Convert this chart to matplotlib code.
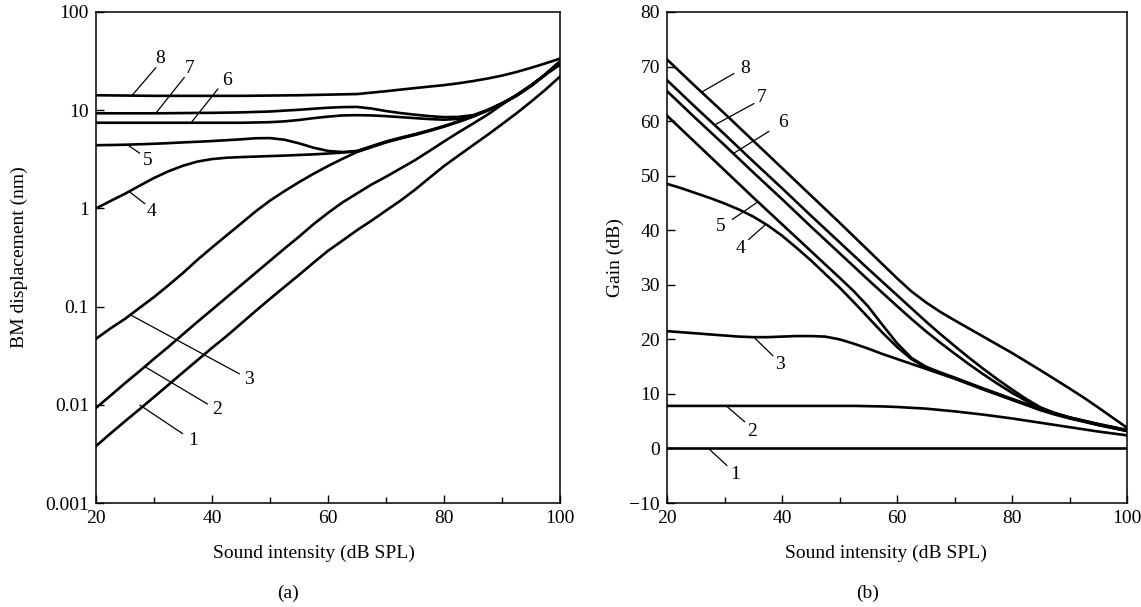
import matplotlib
matplotlib.use("Agg")
import matplotlib.pyplot as plt
from matplotlib.ticker import FixedLocator, FixedFormatter, MultipleLocator

plt.rcParams['font.family'] = ['Liberation Serif', 'DejaVu Serif']

# ---------------- data ----------------
intensity = [20, 22.5, 25, 27.5, 30, 32.5, 35, 37.5, 40, 42.5, 45, 47.5, 50, 52.5, 55, 57.5,
             60, 62.5, 65, 67.5, 70, 72.5, 75, 77.5, 80, 82.5, 85, 87.5, 90, 92.5, 95, 97.5, 100]

# (a) BM displacement (nm), curves 1..8
disp1 = [0.0038, 0.0051, 0.0068, 0.009, 0.012, 0.016, 0.0214, 0.0285, 0.038, 0.05, 0.067, 0.09,
         0.12, 0.159, 0.21, 0.28, 0.37, 0.47, 0.6, 0.75, 0.95, 1.2, 1.55, 2.05, 2.7, 3.45, 4.4,
         5.6, 7.2, 9.3, 12.2, 16.2, 22.0]
disp2 = [0.0093, 0.0124, 0.0166, 0.022, 0.0294, 0.039, 0.0523, 0.07, 0.093, 0.124, 0.165, 0.22,
         0.293, 0.39, 0.515, 0.69, 0.9, 1.15, 1.42, 1.75, 2.1, 2.55, 3.1, 3.85, 4.8, 5.95, 7.3,
         9.0, 11.4, 14.3, 18.0, 23.0, 29.0]
disp3 = [0.047, 0.06, 0.075, 0.097, 0.125, 0.165, 0.22, 0.3, 0.40, 0.53, 0.70, 0.93, 1.2, 1.5,
         1.85, 2.25, 2.7, 3.2, 3.75, 4.2, 4.7, 5.15, 5.6, 6.15, 6.8, 7.6, 8.6, 9.9, 11.6, 14.0,
         17.6, 23.0, 31.0]
disp4 = [1.0, 1.19, 1.41, 1.7, 2.04, 2.39, 2.72, 3.0, 3.18, 3.28, 3.33, 3.37, 3.41, 3.45, 3.5,
         3.55, 3.62, 3.7, 3.8, 4.25, 4.75, 5.2, 5.65, 6.2, 6.85, 7.65, 8.65, 9.95, 11.65, 14.05,
         17.7, 23.1, 31.1]
disp5 = [4.4, 4.42, 4.45, 4.5, 4.55, 4.62, 4.7, 4.77, 4.85, 4.95, 5.05, 5.18, 5.2, 5.0, 4.6,
         4.15, 3.85, 3.75, 3.85, 4.3, 4.8, 5.25, 5.7, 6.25, 6.9, 7.7, 8.7, 10.0, 11.7, 14.1,
         17.8, 23.2, 31.2]
disp6 = [7.45, 7.45, 7.45, 7.45, 7.45, 7.45, 7.45, 7.45, 7.45, 7.45, 7.45, 7.5, 7.55, 7.7, 7.95,
         8.3, 8.6, 8.85, 8.9, 8.85, 8.7, 8.5, 8.3, 8.12, 8.0, 8.15, 8.7, 9.95, 11.7, 14.1, 17.7,
         23.1, 31.0]
disp7 = [9.3, 9.3, 9.3, 9.3, 9.3, 9.32, 9.35, 9.38, 9.4, 9.45, 9.5, 9.6, 9.7, 9.9, 10.1, 10.35,
         10.6, 10.75, 10.8, 10.4, 9.8, 9.35, 9.0, 8.7, 8.5, 8.55, 8.9, 10.05, 11.8, 14.2, 17.8,
         23.3, 31.5]
disp8 = [14.2, 14.15, 14.1, 14.05, 14.0, 14.0, 14.0, 14.0, 14.0, 14.0, 14.0, 14.05, 14.1, 14.15,
         14.2, 14.3, 14.4, 14.5, 14.6, 15.1, 15.6, 16.2, 16.8, 17.4, 18.0, 18.8, 19.8, 21.0, 22.5,
         24.5, 27.0, 30.0, 33.5]

# (b) Gain (dB), curves 1..8
gain1 = [0] * 33
gain2 = [7.8, 7.8, 7.8, 7.8, 7.8, 7.8, 7.8, 7.8, 7.8, 7.8, 7.8, 7.8, 7.8, 7.8, 7.75, 7.7, 7.6,
         7.45, 7.3, 7.05, 6.8, 6.5, 6.2, 5.85, 5.5, 5.1, 4.7, 4.3, 3.9, 3.5, 3.1, 2.75, 2.4]
gain3 = [21.5, 21.3, 21.1, 20.9, 20.7, 20.5, 20.4, 20.4, 20.5, 20.6, 20.6, 20.5, 20.0, 19.2,
         18.3, 17.3, 16.4, 15.5, 14.6, 13.7, 12.8, 11.8, 10.8, 9.85, 8.9, 7.95, 7.0, 6.2, 5.5,
         4.9, 4.3, 3.75, 3.2]
gain4 = [48.5, 47.7, 46.8, 45.9, 44.9, 43.8, 42.5, 40.9, 39.0, 36.8, 34.5, 32.0, 29.5, 26.8,
         24.0, 21.2, 18.6, 16.4, 14.8, 13.8, 12.9, 11.9, 10.9, 9.95, 9.0, 8.05, 7.1, 6.3, 5.6,
         5.0, 4.4, 3.85, 3.3]
gain5 = [61.0, 58.5, 56.0, 53.5, 51.0, 48.5, 46.0, 43.55, 41.1, 38.65, 36.2, 33.75, 31.3, 28.8,
         26.0, 22.6, 19.3, 16.6, 15.0, 13.95, 13.0, 12.0, 11.0, 10.05, 9.1, 8.15, 7.2, 6.4, 5.7,
         5.1, 4.5, 3.95, 3.4]
gain6 = [65.5, 63.0, 60.5, 58.05, 55.6, 53.1, 50.6, 48.15, 45.7, 43.2, 40.7, 38.25, 35.8, 33.35,
         30.9, 28.5, 26.1, 23.75, 21.5, 19.4, 17.4, 15.45, 13.6, 11.85, 10.2, 8.7, 7.3, 6.4, 5.6,
         4.95, 4.3, 3.75, 3.2]
gain7 = [67.5, 65.0, 62.5, 60.05, 57.6, 55.1, 52.6, 50.15, 47.7, 45.2, 42.7, 40.25, 37.8, 35.35,
         32.9, 30.5, 28.1, 25.7, 23.3, 21.0, 18.8, 16.65, 14.6, 12.65, 10.8, 9.05, 7.5, 6.5, 5.7,
         5.05, 4.4, 3.85, 3.3]
gain8 = [71.3, 68.8, 66.3, 63.85, 61.4, 58.9, 56.4, 53.9, 51.4, 48.9, 46.4, 43.9, 41.4, 38.85,
         36.3, 33.75, 31.2, 28.8, 26.8, 25.05, 23.5, 22.0, 20.5, 19.0, 17.5, 15.9, 14.3, 12.65,
         11.0, 9.3, 7.5, 5.65, 3.8]

disp_curves = [disp1, disp2, disp3, disp4, disp5, disp6, disp7, disp8]
gain_curves = [gain1, gain2, gain3, gain4, gain5, gain6, gain7, gain8]

y_ticks_a = [0.001, 0.01, 0.1, 1, 10, 100]
y_ticklabels_a = ['0.001', '0.01', '0.1', '1', '10', '100']
x_ticks = [20, 40, 60, 80, 100]

# curve labels: (text, point on curve, leader end, text position)
labels_a = [
    ('8', (26.2, 14.1), (30.3, 27.0), (31.0, 33.5)),
    ('7', (30.3, 9.3), (35.2, 21.5), (36.1, 26.3)),
    ('6', (36.4, 7.45), (41.0, 16.4), (42.5, 20.3)),
    ('5', (25.4, 4.45), (27.5, 3.66), (28.9, 3.06)),
    ('4', (25.8, 1.47), (28.4, 1.12), (29.5, 0.94)),
    ('3', (26.0, 0.082), (44.7, 0.0207), (46.4, 0.018)),
    ('2', (28.4, 0.0245), (39.2, 0.0102), (40.9, 0.0089)),
    ('1', (27.6, 0.0099), (34.9, 0.0051), (36.7, 0.0043)),
]
labels_b = [
    ('8', (26.0, 65.3), (31.6, 68.7), (33.6, 69.6)),
    ('7', (28.3, 59.3), (35.1, 63.2), (36.4, 64.4)),
    ('6', (31.6, 54.1), (37.7, 58.1), (40.2, 59.8)),
    ('5', (35.8, 45.2), (31.4, 42.0), (29.3, 40.6)),
    ('4', (37.1, 41.0), (34.2, 38.3), (32.7, 36.7)),
    ('3', (35.1, 20.4), (38.4, 17.0), (39.7, 15.3)),
    ('2', (30.3, 7.8), (33.5, 4.9), (34.8, 3.1)),
    ('1', (27.2, 0.0), (30.4, -3.1), (31.9, -4.8)),
]

FS = 14
W, H = 1141, 607
fig = plt.figure(figsize=(W / 100, H / 100), dpi=100)

def box(x0, x1, y0, y1):
    return [x0 / W, 1 - y1 / H, (x1 - x0) / W, (y1 - y0) / H]

axa = fig.add_axes(box(96, 560, 12, 503))
axb = fig.add_axes(box(667, 1127, 12, 503))

for ax in (axa, axb):
    for s in ax.spines.values():
        s.set_linewidth(1.1)
    ax.tick_params(which='both', direction='in', labelsize=FS, width=1.0,
                   top=False, right=False, pad=5)
    ax.tick_params(which='major', length=6)
    ax.tick_params(which='minor', length=4)
    ax.set_xlim(20, 100)
    ax.xaxis.set_major_locator(FixedLocator(x_ticks))
    ax.xaxis.set_minor_locator(MultipleLocator(10))

# (a)
for d in disp_curves:
    axa.plot(intensity, d, color='black', lw=1.9)
axa.set_yscale('log')
axa.set_ylim(0.001, 100)
axa.yaxis.set_major_locator(FixedLocator(y_ticks_a))
axa.yaxis.set_major_formatter(FixedFormatter(y_ticklabels_a))
axa.yaxis.set_minor_locator(FixedLocator([]))
axa.set_ylabel('BM displacement (nm)', fontsize=FS)
axa.set_xlabel('Sound intensity (dB SPL)', fontsize=FS)
axa.yaxis.set_label_coords(-0.146, 0.5)
axa.xaxis.set_label_coords(0.469, -0.085)

for t, p, e, tp in labels_a:
    axa.plot([p[0], e[0]], [p[1], e[1]], color='black', lw=0.9)
    axa.text(tp[0], tp[1], t, fontsize=FS, ha='center', va='center')

# (b)
for g in gain_curves:
    axb.plot(intensity, g, color='black', lw=1.9)
axb.set_ylim(-10, 80)
axb.yaxis.set_major_locator(MultipleLocator(10))
axb.set_ylabel('Gain (dB)', fontsize=FS)
axb.set_xlabel('Sound intensity (dB SPL)', fontsize=FS)
axb.yaxis.set_label_coords(-0.093, 0.5)
axb.xaxis.set_label_coords(0.476, -0.085)

for t, p, e, tp in labels_b:
    axb.plot([p[0], e[0]], [p[1], e[1]], color='black', lw=0.9)
    axb.text(tp[0], tp[1], t, fontsize=FS, ha='center', va='center')

fig.text(288 / W, 1 - 593 / H, '(a)', fontsize=FS, ha='center', va='center')
fig.text(868 / W, 1 - 593 / H, '(b)', fontsize=FS, ha='center', va='center')

fig.savefig('out.png', dpi=100)
